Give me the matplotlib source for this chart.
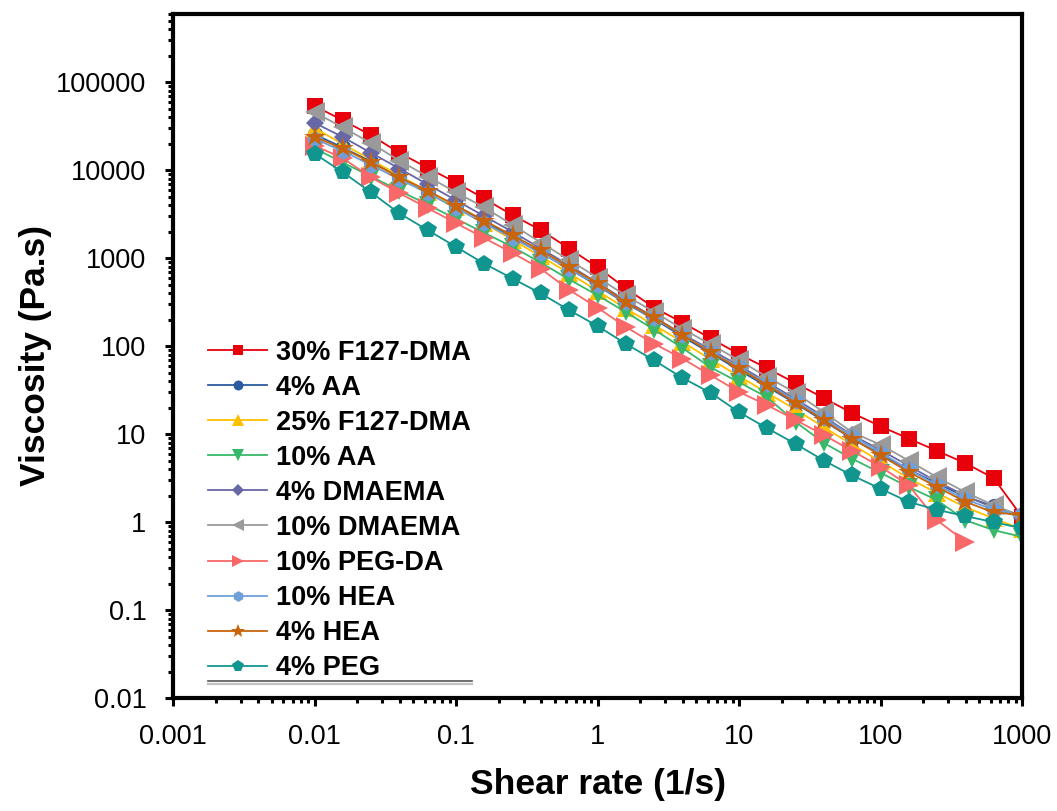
import matplotlib
matplotlib.use('Agg')
import matplotlib.pyplot as plt
from matplotlib.lines import Line2D
from matplotlib.ticker import FixedLocator, FixedFormatter, LogLocator, NullFormatter

plt.rcParams['font.family'] = ['Liberation Sans', 'DejaVu Sans']

# shear rate sweep, 5 points per decade (1/s)
shear_rate = [0.01, 0.0158, 0.0251, 0.0398, 0.0631, 0.1, 0.158, 0.251, 0.398, 0.631,
              1.0, 1.58, 2.51, 3.98, 6.31, 10.0, 15.8, 25.1, 39.8, 63.1,
              100.0, 158.0, 251.0, 398.0, 631.0, 1000.0]

# viscosity (Pa.s)
f127_30 = [54000, 37200, 25100, 15800, 10700, 7240, 4790, 3090, 2090, 1290,
           794, 457, 275, 186, 123, 81.3, 56.2, 38.0, 25.7, 17.4,
           12.3, 8.91, 6.46, 4.68, 3.16, 1.15]
aa_4 = [25700, 18200, 12600, 8510, 5750, 3890, 2630, 1740, 1150, 759,
        490, 309, 204, 129, 83.2, 53.7, 34.7, 22.4, 14.1, 8.91,
        5.89, 3.98, 2.75, 1.95, 1.51, 1.17]
f127_25 = [30200, 20000, 13200, 8710, 5750, 3800, 2510, 1620, 1050, 676,
           427, 269, 174, 112, 70.8, 45.7, 29.5, 19.1, 12.0, 7.59,
           4.90, 3.16, 2.14, 1.48, 1.10, 0.83]
aa_10 = [17800, 12300, 8510, 5890, 4070, 2820, 1950, 1350, 891, 575,
         380, 245, 155, 95.5, 57.5, 38.9, 26.3, 13.8, 7.94, 5.25,
         3.63, 2.51, 1.78, 1.05, 0.81, 0.68]
dmaema_4 = [34700, 24000, 15800, 10500, 6920, 4570, 3020, 2000, 1290, 832,
            525, 331, 214, 138, 91.2, 60.3, 38.9, 25.1, 15.8, 9.77,
            6.61, 4.37, 2.88, 2.00, 1.45, 1.12]
dmaema_10 = [45700, 30900, 20400, 12900, 8510, 5620, 3800, 2400, 1510, 955,
             603, 380, 245, 158, 105, 69.2, 44.7, 29.5, 17.8, 10.5,
             7.59, 5.01, 3.24, 2.19, 1.55, 1.17]
pegda_10 = [19100, 13800, 8320, 5500, 3720, 2510, 1700, 1150, 759, 437,
            275, 166, 107, 72.4, 46.8, 30.2, 21.4, 14.5, 9.77, 6.46,
            4.27, 2.63, 1.05, 0.60]
hea_10 = [22900, 16600, 11500, 7940, 5500, 3720, 2510, 1700, 1150, 759,
          501, 316, 209, 135, 87.1, 57.5, 37.2, 24.0, 15.1, 9.55,
          6.17, 3.98, 2.63, 1.82, 1.38, 1.23]
hea_4 = [24000, 17800, 12300, 8320, 5890, 3980, 2690, 1820, 1230, 794,
         525, 316, 214, 135, 85.1, 56.2, 36.3, 22.9, 14.5, 8.91,
         5.75, 3.72, 2.51, 1.70, 1.29, 1.20]
peg_4 = [15500, 9550, 5620, 3240, 2090, 1350, 871, 589, 398, 257,
         170, 107, 69.2, 43.7, 29.5, 17.8, 11.7, 7.76, 5.01, 3.39,
         2.40, 1.70, 1.38, 1.17, 1.00, 0.85]

labels = ['30% F127-DMA', '4% AA', '25% F127-DMA', '10% AA', '4% DMAEMA',
          '10% DMAEMA', '10% PEG-DA', '10% HEA', '4% HEA', '4% PEG']
series = [f127_30, aa_4, f127_25, aa_10, dmaema_4, dmaema_10, pegda_10, hea_10, hea_4, peg_4]

x_ticks = [0.001, 0.01, 0.1, 1, 10, 100, 1000]
x_ticklabels = ['0.001', '0.01', '0.1', '1', '10', '100', '1000']
y_ticks = [0.01, 0.1, 1, 10, 100, 1000, 10000, 100000]
y_ticklabels = ['0.01', '0.1', '1', '10', '100', '1000', '10000', '100000']

# (color, marker, markersize) per series, same order as labels
styles = [
    ('#e8000b', 's', 11),
    ('#2d5b9f', 'o', 11),
    ('#ffc000', '^', 13),
    ('#38b96a', 'v', 13),
    ('#6767a6', 'D', 9.5),
    ('#9a9a9a', '<', 14),
    ('#f86868', '>', 14),
    ('#6e9fd9', 'h', 12),
    ('#c8650c', '*', 16),
    ('#11968f', 'p', 13),
]

fig = plt.figure(figsize=(10.57, 8.11), dpi=100)
ax = fig.add_axes([173 / 1057, 1 - 698 / 811, 849 / 1057, 684 / 811])

for vals, label, (color, marker, ms) in zip(series, labels, styles):
    ax.plot(shear_rate[:len(vals)], vals, color=color, marker=marker, markersize=ms,
            markeredgewidth=0, linewidth=1.3, label=label)

ax.set_xscale('log')
ax.set_yscale('log')
ax.set_xlim(0.001, 1000)
ax.set_ylim(0.01, 6e5)

ax.xaxis.set_major_locator(FixedLocator(x_ticks))
ax.xaxis.set_major_formatter(FixedFormatter(x_ticklabels))
ax.yaxis.set_major_locator(FixedLocator(y_ticks))
ax.yaxis.set_major_formatter(FixedFormatter(y_ticklabels))
for axis in (ax.xaxis, ax.yaxis):
    axis.set_minor_locator(LogLocator(base=10, subs=range(2, 10), numticks=20))
    axis.set_minor_formatter(NullFormatter())

ax.tick_params(which='major', direction='out', length=6, width=2.2, labelsize=19.5,
               top=False, right=False, pad=13)
ax.tick_params(which='minor', direction='out', length=3.5, width=2.2,
               top=False, right=False)
for spine in ax.spines.values():
    spine.set_linewidth(3)

ax.set_xlabel('Shear rate (1/s)', fontsize=25.5, fontweight='bold', labelpad=13)
ax.set_ylabel('Viscosity (Pa.s)', fontsize=25.5, fontweight='bold', labelpad=3)

leg = ax.legend(loc='upper left', bbox_to_anchor=(0.041, 0.524), frameon=False,
                prop={'weight': 'bold', 'size': 19.5}, markerscale=0.65,
                handlelength=2.2, handletextpad=0.33, labelspacing=0.335,
                borderaxespad=0, borderpad=0)

# double rule under the legend block
ax.add_line(Line2D([0.041, 0.352], [0.0245, 0.0245], transform=ax.transAxes,
                   color='#555555', linewidth=1.2))
ax.add_line(Line2D([0.041, 0.352], [0.020, 0.020], transform=ax.transAxes,
                   color='#c0c0c0', linewidth=1.6))

fig.savefig('out.png', dpi=100)
